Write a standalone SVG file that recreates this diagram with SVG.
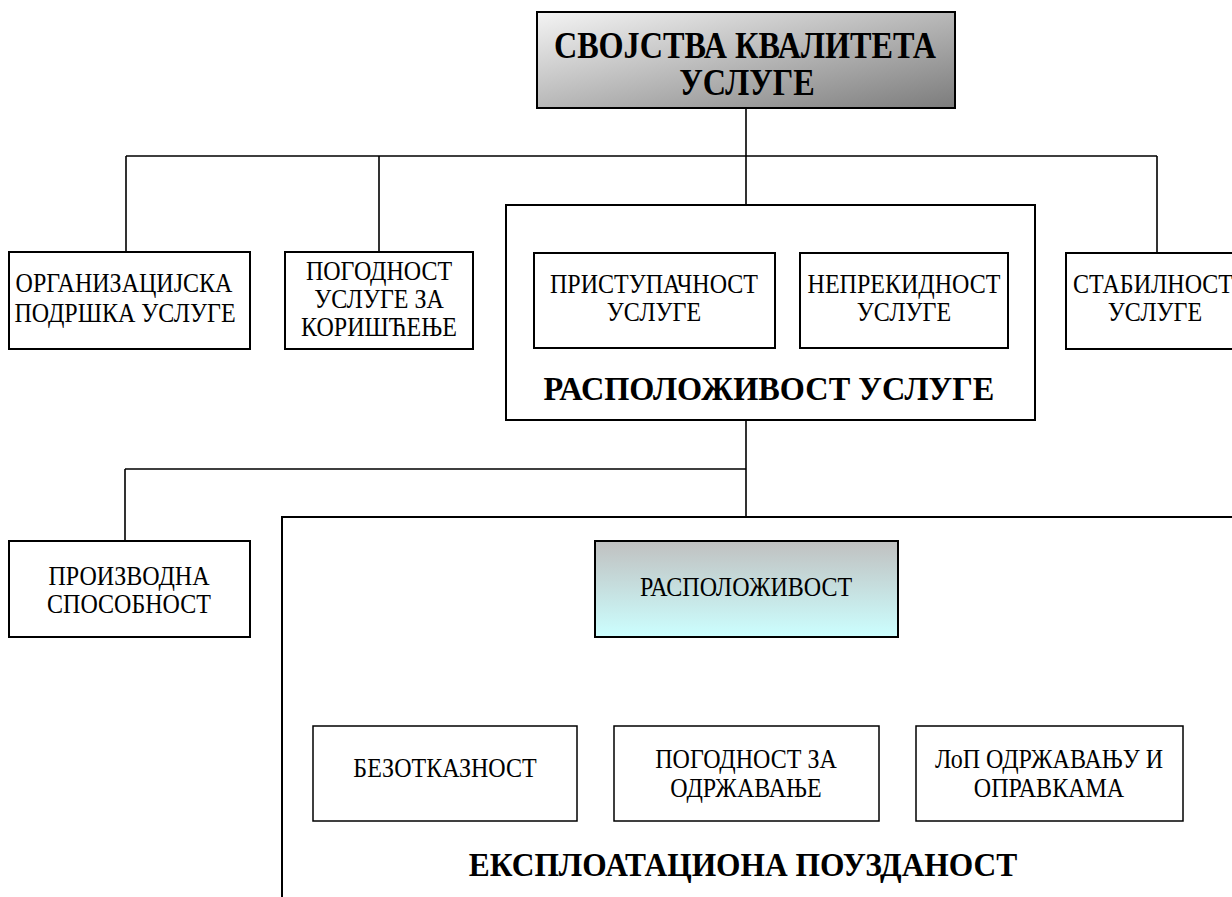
<svg xmlns="http://www.w3.org/2000/svg" width="1232" height="897" viewBox="0 0 1232 897">
  <defs>
    <linearGradient id="gradTitle" x1="0" y1="0" x2="1" y2="1">
      <stop offset="0" stop-color="#f4f4f4"/>
      <stop offset="1" stop-color="#7c7c7c"/>
    </linearGradient>
    <linearGradient id="gradAvail" x1="0" y1="0" x2="0" y2="1">
      <stop offset="0" stop-color="#c0c0c0"/>
      <stop offset="1" stop-color="#ccffff"/>
    </linearGradient>
    <style>
      .box { fill: #ffffff; stroke: #000000; stroke-width: 2; }
      .thin { stroke-width: 1.5; }
      .wire { fill: none; stroke: #000000; stroke-width: 1.6; }
      .lbl { font-family: "Liberation Serif", "Times New Roman", serif; font-size: 27px; fill: #000000; text-anchor: middle; }
      .head { font-family: "Liberation Serif", "Times New Roman", serif; font-size: 34px; font-weight: bold; fill: #000000; text-anchor: middle; }
      .big { font-size: 37px; }
    </style>
  </defs>
  <rect width="1232" height="897" fill="#ffffff"/>

  <!-- connectors -->
  <g id="connectors" class="wire">
    <path d="M746,108 V156 M126,156 H1157 M126,156 V252 M379,156 V252 M746,156 V205 M1157,156 V253"/>
    <path d="M746,420 V517 M125,469 H746 M125,469 V541"/>
    <path d="M746,637 V726 M444,684 H1049 M444,684 V726 M1049,684 V726" stroke-width="1.3"/>
  </g>

  <!-- root; labels are set slightly condensed (x scale) -->
  <g id="n-root">
    <rect x="537" y="12" width="418" height="96" fill="url(#gradTitle)" stroke="#000" stroke-width="2"/>
    <text class="head big" transform="matrix(0.87 0 0 1 745 0)" y="58">СВОЈСТВА КВАЛИТЕТА</text>
    <text class="head big" transform="matrix(0.87 0 0 1 747 0)" y="95">УСЛУГЕ</text>
  </g>

  <g id="n-org">
    <rect class="box" x="9" y="252" width="241" height="97"/>
    <text class="lbl" transform="matrix(0.89 0 0 1 124 0)" y="292">ОРГАНИЗАЦИЈСКА</text>
    <text class="lbl" transform="matrix(0.89 0 0 1 125 0)" y="322">ПОДРШКА УСЛУГЕ</text>
  </g>

  <g id="n-use">
    <rect class="box" x="285" y="252" width="188" height="97"/>
    <text class="lbl" transform="matrix(0.89 0 0 1 379 0)" y="280">ПОГОДНОСТ</text>
    <text class="lbl" transform="matrix(0.89 0 0 1 379 0)" y="308">УСЛУГЕ ЗА</text>
    <text class="lbl" transform="matrix(0.89 0 0 1 379 0)" y="336">КОРИШЋЕЊЕ</text>
  </g>

  <!-- availability container with its two parts -->
  <g id="n-avail-service">
    <rect class="box" x="506" y="205" width="529" height="215"/>
    <text class="head" transform="matrix(0.95 0 0 1 769 0)" y="400">РАСПОЛОЖИВОСТ УСЛУГЕ</text>
  </g>
  <g id="n-access">
    <rect class="box" x="534" y="253" width="241" height="95"/>
    <text class="lbl" transform="matrix(0.89 0 0 1 654 0)" y="293">ПРИСТУПАЧНОСТ</text>
    <text class="lbl" transform="matrix(0.89 0 0 1 654 0)" y="321">УСЛУГЕ</text>
  </g>
  <g id="n-continuity">
    <rect class="box" x="800" y="253" width="208" height="95"/>
    <text class="lbl" transform="matrix(0.89 0 0 1 904 0)" y="293">НЕПРЕКИДНОСТ</text>
    <text class="lbl" transform="matrix(0.89 0 0 1 904 0)" y="321">УСЛУГЕ</text>
  </g>

  <g id="n-stability">
    <rect class="box" x="1066" y="253" width="180" height="96"/>
    <text class="lbl" transform="matrix(0.89 0 0 1 1153 0)" y="293">СТАБИЛНОСТ</text>
    <text class="lbl" transform="matrix(0.89 0 0 1 1155 0)" y="321">УСЛУГЕ</text>
  </g>

  <g id="n-capacity">
    <rect class="box" x="9" y="541" width="241" height="96"/>
    <text class="lbl" transform="matrix(0.89 0 0 1 129 0)" y="585">ПРОИЗВОДНА</text>
    <text class="lbl" transform="matrix(0.89 0 0 1 129 0)" y="613">СПОСОБНОСТ</text>
  </g>

  <!-- operational reliability container -->
  <g id="n-reliability">
    <rect class="box" x="282" y="517" width="1000" height="420"/>
    <text class="head" transform="matrix(0.925 0 0 1 743 0)" y="876">ЕКСПЛОАТАЦИОНА ПОУЗДАНОСТ</text>
  </g>

  <g id="n-availability">
    <rect x="595" y="541" width="303" height="96" fill="url(#gradAvail)" stroke="#000" stroke-width="2"/>
    <text class="lbl" transform="matrix(0.89 0 0 1 746 0)" y="596">РАСПОЛОЖИВОСТ</text>
  </g>

  <g id="n-faultless">
    <rect class="box thin" x="313" y="726" width="264" height="95"/>
    <text class="lbl" transform="matrix(0.89 0 0 1 445 0)" y="777">БЕЗОТКАЗНОСТ</text>
  </g>
  <g id="n-maintainability">
    <rect class="box thin" x="614" y="726" width="265" height="95"/>
    <text class="lbl" transform="matrix(0.89 0 0 1 746 0)" y="768">ПОГОДНОСТ ЗА</text>
    <text class="lbl" transform="matrix(0.89 0 0 1 746 0)" y="797">ОДРЖАВАЊЕ</text>
  </g>
  <g id="n-support">
    <rect class="box thin" x="916" y="726" width="267" height="95"/>
    <text class="lbl" transform="matrix(0.89 0 0 1 1049 0)" y="768">ЛоП ОДРЖАВАЊУ И</text>
    <text class="lbl" transform="matrix(0.89 0 0 1 1049 0)" y="797">ОПРАВКАМА</text>
  </g>
</svg>
